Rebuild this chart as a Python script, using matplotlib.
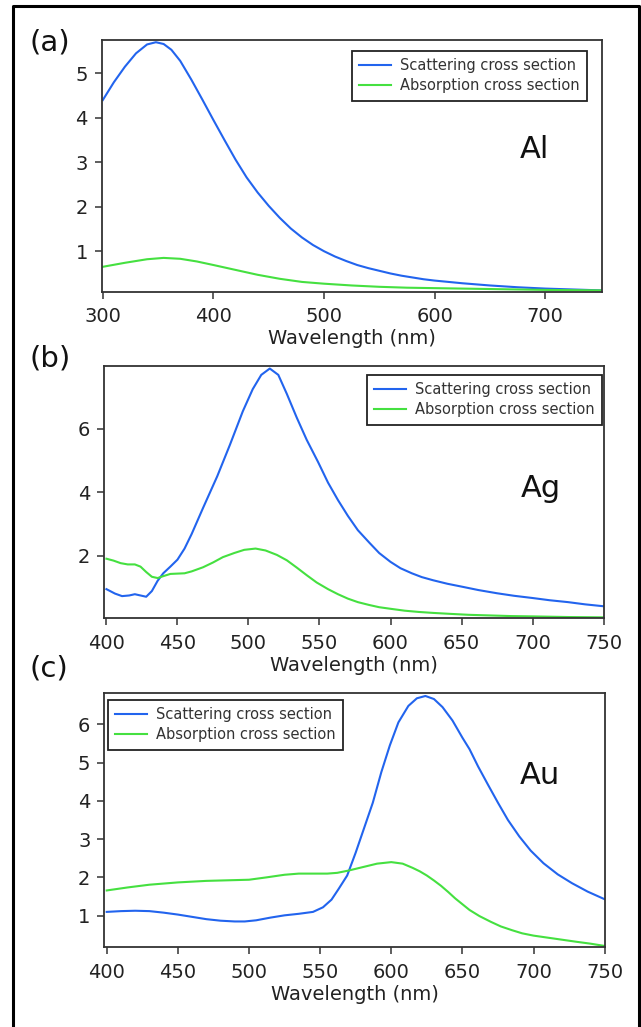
import matplotlib
matplotlib.use("Agg")
import matplotlib.pyplot as plt
from matplotlib.lines import Line2D

plt.rcParams['font.family'] = ['DejaVu Sans']

# ---------------- data ----------------
al_wl_sca = [300, 310, 320, 330, 340, 348, 355, 362, 370, 380, 390, 400, 410, 420, 430, 440, 450,
             460, 470, 480, 490, 500, 510, 520, 530, 540, 550, 560, 570, 580, 590, 600, 625, 650, 675, 700, 725, 750]
al_sca = [4.40, 4.80, 5.15, 5.45, 5.65, 5.70, 5.66, 5.53, 5.28, 4.86, 4.41, 3.95, 3.50, 3.06, 2.66, 2.32, 2.02,
          1.75, 1.51, 1.31, 1.14, 1.00, 0.88, 0.78, 0.69, 0.62, 0.56, 0.50, 0.45, 0.41, 0.37, 0.34, 0.28, 0.23, 0.19, 0.16, 0.14, 0.12]
al_wl_abs = [300, 320, 340, 355, 370, 385, 400, 420, 440, 460, 480, 500, 525, 550, 575, 600, 650, 700, 750]
al_abs = [0.65, 0.74, 0.82, 0.85, 0.83, 0.77, 0.69, 0.58, 0.47, 0.38, 0.31, 0.27, 0.23, 0.20, 0.18, 0.17, 0.15, 0.13, 0.12]

ag_wl_sca = [400, 406, 411, 416, 420, 424, 428, 432, 436, 440, 445, 450, 455, 460, 468, 478, 487, 496,
             503, 509, 515, 521, 527, 534, 541, 549, 556, 563, 570, 577, 585, 592, 600, 607, 615, 622, 630,
             640, 650, 662, 675, 687, 700, 712, 725, 737, 750]
ag_sca = [0.94, 0.80, 0.72, 0.74, 0.78, 0.74, 0.70, 0.88, 1.20, 1.44, 1.65, 1.87, 2.22, 2.68, 3.50, 4.50, 5.50, 6.55,
          7.25, 7.70, 7.90, 7.70, 7.10, 6.35, 5.65, 4.95, 4.30, 3.75, 3.25, 2.80, 2.41, 2.08, 1.80, 1.60, 1.44, 1.32, 1.22,
          1.11, 1.02, 0.91, 0.81, 0.73, 0.66, 0.59, 0.53, 0.46, 0.40]
ag_wl_abs = [400, 405, 410, 415, 420, 424, 428, 432, 436, 440, 445, 450, 455, 460, 468, 475, 482, 490, 497,
             505, 512, 520, 527, 534, 541, 548, 556, 563, 570, 577, 585, 592, 600, 610, 620, 630, 642, 655, 670, 685,
             700, 725, 750]
ag_abs = [1.90, 1.84, 1.76, 1.72, 1.72, 1.65, 1.48, 1.33, 1.29, 1.35, 1.42, 1.43, 1.44, 1.50, 1.63, 1.78, 1.95, 2.08, 2.18,
          2.22, 2.16, 2.02, 1.85, 1.62, 1.38, 1.15, 0.94, 0.78, 0.64, 0.53, 0.44, 0.37, 0.32, 0.26, 0.22, 0.19, 0.16, 0.13,
          0.11, 0.09, 0.08, 0.06, 0.05]

au_wl_sca = [400, 410, 420, 430, 440, 450, 460, 470, 480, 490, 497, 505, 515, 525, 535, 545, 552, 558, 563, 569,
             575, 581, 587, 593, 599, 605, 612, 618, 624, 630, 636, 643, 650, 655, 661, 668, 675, 682, 690, 698,
             707, 717, 727, 738, 750]
au_sca = [1.10, 1.12, 1.13, 1.12, 1.08, 1.03, 0.97, 0.91, 0.87, 0.85, 0.85, 0.88, 0.95, 1.01, 1.05, 1.10, 1.22, 1.42, 1.70, 2.05,
          2.65, 3.30, 3.95, 4.75, 5.45, 6.05, 6.48, 6.68, 6.74, 6.66, 6.45, 6.10, 5.65, 5.35, 4.90, 4.42, 3.95, 3.50, 3.07, 2.70,
          2.37, 2.08, 1.85, 1.63, 1.43]
au_wl_abs = [400, 415, 430, 450, 470, 490, 500, 512, 525, 535, 545, 555, 562, 570, 580, 590, 600, 608, 615,
             620, 625, 630, 635, 640, 645, 650, 655, 662, 670, 677, 685, 692, 700, 715, 730, 740, 750]
au_abs = [1.66, 1.74, 1.81, 1.87, 1.91, 1.93, 1.94, 2.00, 2.07, 2.10, 2.10, 2.10, 2.12, 2.18, 2.27, 2.36, 2.40, 2.36, 2.25,
          2.16, 2.05, 1.92, 1.78, 1.62, 1.45, 1.30, 1.15, 0.99, 0.84, 0.72, 0.62, 0.54, 0.48, 0.40, 0.32, 0.27, 0.21]

panel_letters = ["(a)", "(b)", "(c)"]
metals = ["Al", "Ag", "Au"]
legend_labels = ["Scattering cross section", "Absorption cross section"]
x_label = "Wavelength (nm)"
a_xticks = [300, 400, 500, 600, 700]
a_yticks = [1, 2, 3, 4, 5]
b_xticks = [400, 450, 500, 550, 600, 650, 700, 750]
b_yticks = [2, 4, 6]
c_xticks = [400, 450, 500, 550, 600, 650, 700, 750]
c_yticks = [1, 2, 3, 4, 5, 6]

# ---------------- layout ----------------
W, H = 641, 1027
fig = plt.figure(figsize=(W / 100, H / 100), dpi=100)

def rect(l, r, t, b):
    return [l / W, 1 - b / H, (r - l) / W, (b - t) / H]

BLUE = '#2264ee'
GREEN = '#45e040'
SPINE = '#333333'

panels = [
    dict(r=rect(101.7, 601.7, 40, 291.7), xl=(299, 751), yl=(0.09, 5.75), xt=a_xticks, yt=a_yticks,
         ws=al_wl_sca, s=al_sca, wa=al_wl_abs, a=al_abs, leg=('upper right', (0.9706, 0.956)),
         met=(0.837, 0.53), let=(30, 50)),
    dict(r=rect(104.3, 604.3, 366, 618.3), xl=(398.5, 750.5), yl=(0.02, 7.98), xt=b_xticks, yt=b_yticks,
         ws=ag_wl_sca, s=ag_sca, wa=ag_wl_abs, a=ag_abs, leg=('upper right', (0.995, 0.964)),
         met=(0.832, 0.481), let=(30, 366)),
    dict(r=rect(104.3, 604.7, 693.3, 947.3), xl=(398.3, 750), yl=(0.175, 6.81), xt=c_xticks, yt=c_yticks,
         ws=au_wl_sca, s=au_sca, wa=au_wl_abs, a=au_abs, leg=('upper left', (0.007, 0.974)),
         met=(0.831, 0.643), let=(30, 677)),
]

for i, p in enumerate(panels):
    ax = fig.add_axes(p['r'])
    ax.plot(p['ws'], p['s'], color=BLUE, lw=1.5, label=legend_labels[0], solid_joinstyle='round')
    ax.plot(p['wa'], p['a'], color=GREEN, lw=1.5, label=legend_labels[1], solid_joinstyle='round')
    ax.set_xlim(*p['xl'])
    ax.set_ylim(*p['yl'])
    ax.set_xticks(p['xt'])
    ax.set_yticks(p['yt'])
    for s in ax.spines.values():
        s.set_color(SPINE)
        s.set_linewidth(1.3)
    ax.tick_params(direction='out', length=5, width=1.1, color=SPINE, labelsize=14,
                   labelcolor='#222222')
    ax.tick_params(axis='x', pad=6)
    ax.tick_params(axis='y', pad=5)
    ax.set_xlabel(x_label, fontsize=14, color='#222222', labelpad=2.5)
    loc, anchor = p['leg']
    leg = ax.legend(loc=loc, bbox_to_anchor=anchor, borderaxespad=0, fontsize=10.5,
                    frameon=True, fancybox=False, edgecolor='#222222', framealpha=1,
                    handlelength=2.2, handletextpad=0.6, labelspacing=0.35, borderpad=0.5)
    leg.get_frame().set_linewidth(1.3)
    for t in leg.get_texts():
        t.set_color('#333333')
    ax.text(p['met'][0], p['met'][1], metals[i], transform=ax.transAxes, fontsize=22,
            ha='left', va='baseline', color='#111111')
    fig.text(p['let'][0] / W, 1 - p['let'][1] / H, panel_letters[i], fontsize=21,
             ha='left', va='baseline', color='#111111')

# outer frame (left, top, right edges)
xs = [12.7 / W, 12.7 / W, 639.3 / W, 639.3 / W]
ys = [-0.01, 1 - 6 / H, 1 - 6 / H, -0.01]
fig.add_artist(Line2D(xs, ys, transform=fig.transFigure, color='black', lw=2.2))

fig.savefig("out.png", dpi=100, facecolor='white')
